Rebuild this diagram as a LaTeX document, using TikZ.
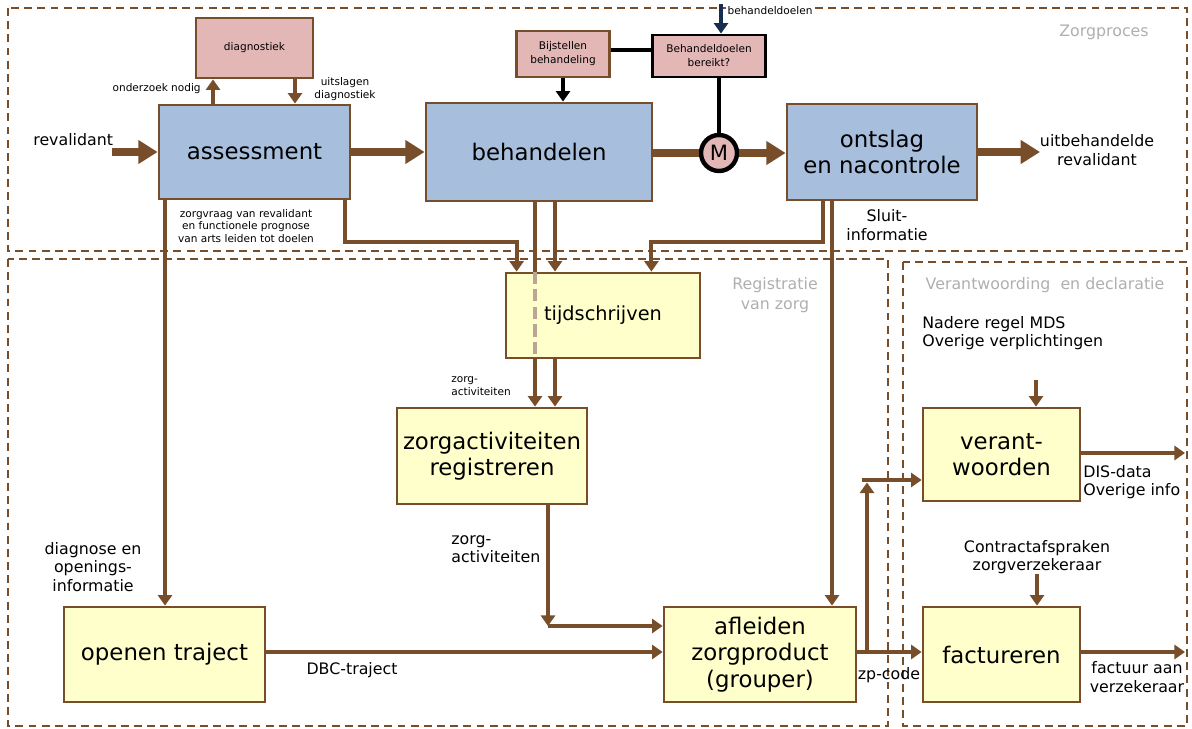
\documentclass[tikz,border=0pt]{standalone}
\usepackage{fontspec}
\setmainfont{DejaVu Sans}
\usepackage{xcolor}
\usetikzlibrary{arrows.meta}

\definecolor{lijn}{RGB}{120,78,42}
\definecolor{blauwvak}{RGB}{167,191,220}
\definecolor{roze}{RGB}{228,183,183}
\definecolor{geel}{RGB}{255,255,204}
\definecolor{grijs}{RGB}{175,175,175}
\definecolor{navy}{RGB}{25,45,80}

\tikzset{
    vak/.style={draw=lijn, line width=1.6pt, inner sep=1pt, align=center, font=\fontsize{13}{15}\selectfont},
    blauw/.style={vak, fill=blauwvak},
    geelvak/.style={vak, fill=geel},
    rozevak/.style={vak, fill=roze, font=\fontsize{6}{8}\selectfont},
    pijl/.style={draw=lijn, line width=2.3pt, -{Triangle[length=6pt,width=8pt]}},
    dikpijl/.style={draw=lijn, line width=4pt, -{Triangle[length=11pt,width=13pt]}},
    zwartpijl/.style={draw=black, line width=1.8pt, -{Triangle[length=6pt,width=8pt]}},
    lbl/.style={font=\fontsize{9}{10.5}\selectfont, align=center, inner sep=0pt},
    klein/.style={font=\fontsize{6}{7}\selectfont, align=center, inner sep=0pt},
    gebied/.style={draw=lijn, line width=1.1pt, dash pattern=on 4.5pt off 3pt},
    gebiedtekst/.style={text=grijs, font=\fontsize{9}{11}\selectfont, align=center, inner sep=0pt}
}

\begin{document}
\begin{tikzpicture}[x=0.02cm, y=-0.02cm]
    \useasboundingbox (0,0) rectangle (1192,729);

    % Gebieden
    \draw[gebied] (8,8) rectangle (1187,251);
    \draw[gebied] (8,259) rectangle (888,726);
    \draw[gebied] (903,262) rectangle (1187,726);
    \node[gebiedtekst] (zorgproces) at (1104,32) {Zorgproces};
    \node[gebiedtekst] (registratie) at (775,295) {Registratie\\van zorg};
    \node[gebiedtekst] (verantdecl) at (1045,285) {Verantwoording \ en declaratie};

    % Zorgproces
    \node[rozevak, minimum width=2.34cm, minimum height=1.2cm] (diag) at (254.5,48) {diagnostiek};
    \node[blauw, minimum width=3.82cm, minimum height=1.88cm] (assess) at (254.5,152) {assessment};
    \node[blauw, minimum width=4.52cm, minimum height=1.96cm] (behand) at (539,152) {behandelen};
    \node[blauw, minimum width=3.8cm, minimum height=1.92cm] (ontslag) at (882,152) {ontslag\\en nacontrole};
    \node[rozevak, minimum width=1.86cm, minimum height=0.92cm] (bijst) at (563,54) {Bijstellen\\behandeling};
    \node[rozevak, draw=black, minimum width=2.26cm, minimum height=0.84cm] (doelen) at (709,56) {Behandeldoelen\\bereikt?};
    \node[circle, draw=black, line width=2.5pt, fill=roze, minimum size=0.72cm, inner sep=0pt, font=\fontsize{12}{14}\selectfont] (M) at (719,153) {M};
    \node[klein, fill=white, inner sep=1pt] (lbldoel) at (770,11) {behandeldoelen};

    \node[lbl, anchor=west] (revalidant) at (33,140) {revalidant};
    \node[klein, anchor=east] (onderzoek) at (201,89) {onderzoek nodig};
    \node[klein] (uitslagen) at (345,89) {uitslagen\\diagnostiek};
    \node[klein] (zorgvraag) at (246,226) {zorgvraag van revalidant\\en functionele prognose\\van arts leiden tot doelen};
    \node[lbl] (uitbehandeld) at (1097,150) {uitbehandelde\\revalidant};
    \node[lbl] (sluit) at (887,225) {Sluit-\\informatie};

    % Registratie van zorg
    \node[geelvak, minimum width=3.88cm, minimum height=1.7cm, font=\fontsize{11}{13}\selectfont] (tijd) at (603,315.5) {tijdschrijven};
    \node[geelvak, minimum width=3.8cm, minimum height=1.92cm] (zorgact) at (492,456) {zorgactiviteiten\\registreren};
    \node[geelvak, minimum width=4.02cm, minimum height=1.9cm] (openen) at (164.5,654.5) {openen traject};
    \node[geelvak, minimum width=3.84cm, minimum height=1.9cm] (afleiden) at (760,654.5) {afleiden\\zorgproduct\\(grouper)};

    \node[klein, anchor=west, align=left] (zorgact1) at (451,386) {zorg-\\activiteiten};
    \node[lbl, anchor=west, align=left] (zorgact2) at (451,549) {zorg-\\activiteiten};
    \node[lbl] (diagnose) at (93,567) {diagnose en\\openings-\\informatie};
    \node[lbl] (dbc) at (352,670) {DBC-traject};
    \node[lbl] (zpcode) at (889,675) {zp-code};

    % Verantwoording en declaratie
    \node[geelvak, minimum width=3.14cm, minimum height=1.86cm] (verant) at (1001.5,454.5) {verant-\\woorden};
    \node[geelvak, minimum width=3.14cm, minimum height=1.9cm] (factu) at (1001.5,654.5) {factureren};
    \node[lbl, anchor=west, align=left] (mds) at (922,333) {Nadere regel MDS\\Overige verplichtingen};
    \node[lbl, anchor=west, align=left] (disdata) at (1083,482) {DIS-data\\Overige info};
    \node[lbl] (contract) at (1037,557) {Contractafspraken\\zorgverzekeraar};
    \node[lbl] (factuur) at (1137,677) {factuur aan\\verzekeraar};

    % Hulppunten
    \coordinate (inpunt) at (112,152);
    \coordinate (uit) at (1040,152);
    \coordinate (topin) at (721,4);
    \coordinate (k1) at (345,242);
    \coordinate (k2) at (823,242);
    \coordinate (xa) at (535,0);
    \coordinate (xb) at (555,0);
    \coordinate (xc) at (832,0);
    \coordinate (xd) at (165,0);
    \coordinate (k3) at (548,626);
    \coordinate (zp) at (867,652);
    \coordinate (zpop) at (867,480);
    \coordinate (disuit) at (1185,453);
    \coordinate (factuit) at (1185,652);
    \coordinate (mdsin) at (1036,380);

    % Hoofdstroom
    \draw[dikpijl] (inpunt) -- (inpunt -| assess.west);
    \draw[dikpijl] (assess.east) -- (assess.east -| behand.west);
    \draw[draw=lijn, line width=4pt] (behand.east |- M) -- (M.west);
    \draw[dikpijl] (M.east) -- (M.east -| ontslag.west);
    \draw[dikpijl] (ontslag.east |- uit) -- (uit);

    % Diagnostiek en bijsturing
    \draw[pijl] ([xshift=-0.83cm]assess.north) -- ([xshift=-0.83cm]diag.south);
    \draw[pijl] ([xshift=0.81cm]diag.south) -- ([xshift=0.81cm]assess.north);
    \draw[zwartpijl] (bijst.south) -- (bijst.south |- behand.north);
    \draw[black, line width=1.8pt] ([yshift=0.08cm]bijst.east) -- ([yshift=0.08cm]bijst.east -| doelen.west);
    \draw[black, line width=2.2pt] (M.north) -- (M.north |- doelen.south);
    \draw[draw=navy, line width=1.8pt, -{Triangle[length=6pt,width=8pt]}] (topin) -- (topin |- doelen.north);

    % Naar registratie
    \draw[pijl, rounded corners=0pt] (assess.south -| k1) -- (k1) -| ([xshift=0.24cm]tijd.north west);
    \draw[pijl] (ontslag.south -| k2) -- (k2) -| ([xshift=-1cm]tijd.north east);
    \draw[pijl] (behand.south -| xb) -- (tijd.north -| xb);
    \draw[draw=lijn, line width=2.3pt] (behand.south -| xa) -- (tijd.north -| xa);
    \draw[draw=lijn!50, line width=2.3pt, dash pattern=on 7pt off 3pt] (tijd.north -| xa) -- (tijd.south -| xa);
    \draw[pijl] (tijd.south -| xa) -- (zorgact.north -| xa);
    \draw[pijl] (tijd.south -| xb) -- (zorgact.north -| xb);
    \draw[pijl] (ontslag.south -| xc) -- (afleiden.north -| xc);
    \draw[pijl] (assess.south -| xd) -- (openen.north -| xd);

    % Grouper en verder
    \draw[pijl] (zorgact.south -| k3) -- (k3);
    \draw[pijl] (k3) -- (k3 -| afleiden.west);
    \draw[pijl] (openen.east |- zp) -- (afleiden.west |- zp);
    \draw[pijl] (afleiden.east |- zp) -- (factu.west |- zp);
    \draw[pijl] (zp) -- ([yshift=-0.05cm]zpop);
    \draw[pijl] ([xshift=-0.1cm]zpop) -- (verant.west |- zpop);
    \draw[pijl] (verant.east |- disuit) -- (disuit);
    \draw[pijl] (factu.east |- factuit) -- (factuit);
    \draw[pijl] (mdsin) -- (mdsin |- verant.north);
    \draw[pijl] (contract.south) -- (contract.south |- factu.north);

\end{tikzpicture}
\end{document}
